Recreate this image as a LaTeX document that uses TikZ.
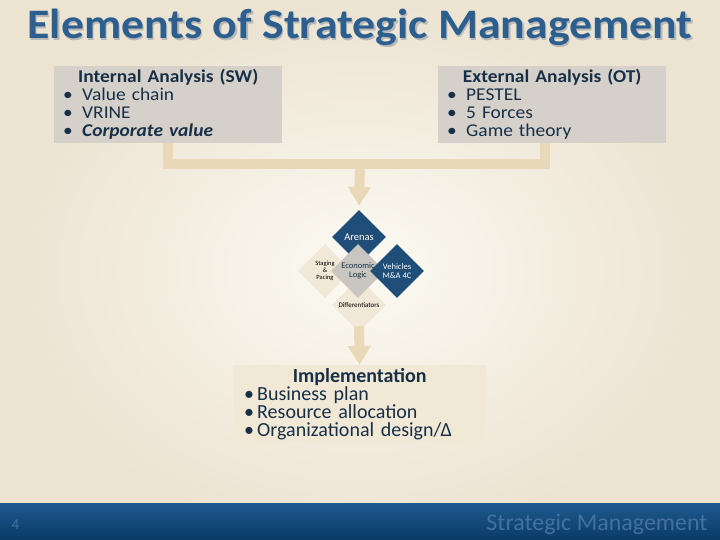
\documentclass[tikz,border=0pt]{standalone}
\usepackage{fontspec}
\setmainfont{Carlito}
\newfontfamily\headfont{Carlito}[FakeStretch=1.09]
\newfontfamily\boxfont{Carlito}[FakeStretch=1.08]
\usetikzlibrary{shapes.geometric,arrows.meta,positioning}

\definecolor{bgin}{HTML}{FCFAF3}
\definecolor{bgout}{HTML}{ECE3D1}
\definecolor{titleblue}{HTML}{2D5F8E}
\definecolor{boxgray}{HTML}{D5D1CA}
\definecolor{implfill}{HTML}{F2E8D6}
\definecolor{feedtan}{HTML}{EAD9B8}
\definecolor{gemblue}{HTML}{1F4E79}
\definecolor{gemgray}{HTML}{C9C6C1}
\definecolor{gemcream}{HTML}{F1E8D8}
\definecolor{inktext}{HTML}{172F47}
\definecolor{foottop}{HTML}{1D5A8F}
\definecolor{footbot}{HTML}{0B3A66}
\definecolor{foottext}{HTML}{43719D}

\newcommand{\bul}[1]{\makebox[19pt][l]{\textbullet}#1\par}
\newcommand{\ibul}[1]{\makebox[13pt][l]{\textbullet}#1\par}

\begin{document}
\begin{tikzpicture}[x=1pt,y=-1pt,
    infobox/.style={fill=boxgray,anchor=north west,inner xsep=9pt,inner ysep=0pt,
        minimum height=77pt,text width=210pt,align=left,text=inktext,
        font=\boxfont\fontsize{18}{18}\selectfont},
    gem/.style={diamond,minimum width=54pt,minimum height=54pt,inner sep=0pt,
        align=center,font=\fontsize{8.5}{9.5}\selectfont},
    feed/.style={draw=feedtan,line width=10pt},
    tip/.style={-{Triangle[width=22pt,length=19pt]}}
]
\useasboundingbox (0,0) rectangle (720,540);
\shade[inner color=bgin,outer color=bgout] (0,0) rectangle (720,540);
\shade[top color=foottop,bottom color=footbot] (0,503) rectangle (720,540);

% title
\node[anchor=base,text=black!28,font=\headfont\bfseries\fontsize{42}{42}\selectfont]
    at (361.5,40.5) {Elements of Strategic Management};
\node (title)[anchor=base,text=titleblue,font=\headfont\bfseries\fontsize{42}{42}\selectfont]
    at (360,39) {Elements of Strategic Management};

% analysis boxes
\node (int)[infobox] at (54,66) {%
    {\centering\bfseries Internal Analysis (SW)\par}
    \bul{Value chain}
    \bul{VRINE}
    \bul{\bfseries\itshape Corporate value}};
\node (ext)[infobox] at (438,66) {%
    {\centering\bfseries External Analysis (OT)\par}
    \bul{PESTEL}
    \bul{5 Forces}
    \bul{Game theory}};

% strategy diamond
\node (logic) at (359,271) {};
\node (staging)[gem,fill=gemcream,font=\fontsize{6.5}{7}\selectfont]
    at ([xshift=-34pt]logic) {Staging\\\&\\Pacing};
\node (diff)[gem,fill=gemcream,font=\fontsize{7}{8}\selectfont]
    at ([yshift=-34pt]logic) {Differentiators};
\node (arenas)[gem,fill=gemblue,text=white,font=\fontsize{10.5}{11}\selectfont]
    at ([yshift=34pt]logic) {Arenas};
\node (logic)[gem,fill=gemgray,text=inktext,font=\fontsize{8.5}{9.5}\selectfont]
    at (358,271) {Economic\\Logic};
\node (vehicles)[gem,fill=gemblue,text=white]
    at ([xshift=39pt]logic) {Vehicles\\M\&A 4C};

% implementation
\node (impl)[fill=implfill,anchor=north west,inner xsep=11pt,inner ysep=0pt,
    minimum height=78pt,text width=231pt,align=left,text=inktext,
    font=\fontsize{20}{18}\selectfont] at (233,365) {%
    {\centering\bfseries Implementation\par}
    \ibul{Business plan}
    \ibul{Resource allocation}
    \ibul{Organizational design/Δ}};

% connectors
\coordinate (join) at (360,164);
\draw[feed] (int.south) |- (join) -| ([xshift=-7pt]ext.south);
\draw[feed,tip] (join) -- ([yshift=4pt]arenas.north);
\draw[feed,tip] ([yshift=6pt]diff.south) -- (impl.north);

% footer
\node (page)[anchor=base west,text=foottext,font=\fontsize{15}{15}\selectfont]
    at (8,529) {4};
\node (foot)[anchor=base east,text=foottext,font=\fontsize{24}{24}\selectfont]
    at (711,530) {Strategic Management};
\end{tikzpicture}
\end{document}
